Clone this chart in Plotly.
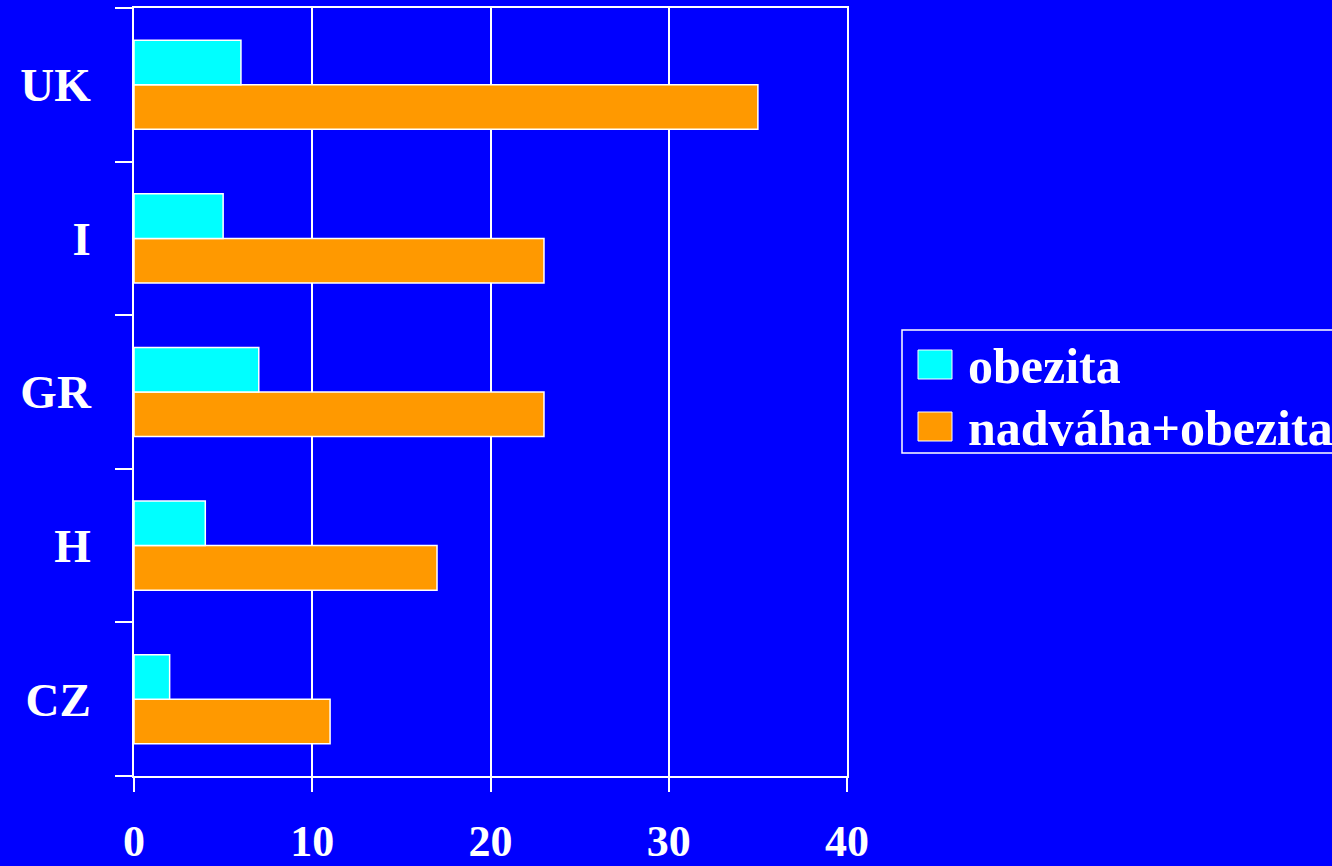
import plotly.graph_objects as go

countries = ["CZ", "H", "GR", "I", "UK"]
obezita = [2, 4, 7, 5, 6]
nadvaha_obezita = [11, 17, 23, 23, 35]
x_ticks = [0, 10, 20, 30, 40]

BLUE = "#0000FF"
CYAN = "#00FFFF"
ORANGE = "#FF9900"
WHITE = "#FFFFFF"
FONT = "Liberation Serif, Times New Roman, serif"

W, H = 1332, 866
ML, MR, MT, MB = 134, 485, 8, 90
PW, PH = W - ML - MR, H - MT - MB


def px_x(x):
    return (x - ML) / PW


def px_y(y):
    return (H - MB - y) / PH


fig = go.Figure()
# second series first so it sits below within each group
fig.add_trace(go.Bar(
    y=countries, x=nadvaha_obezita, orientation="h", name="nadváha+obezita",
    marker=dict(color=ORANGE, line=dict(color=WHITE, width=1.5)), showlegend=False,
))
fig.add_trace(go.Bar(
    y=countries, x=obezita, orientation="h", name="obezita",
    marker=dict(color=CYAN, line=dict(color=WHITE, width=1.5)), showlegend=False,
))

# legend box drawn by hand for large swatches
shapes = [
    dict(type="rect", xref="paper", yref="paper",
         x0=px_x(902), x1=px_x(1345), y0=px_y(453), y1=px_y(330),
         line=dict(color=WHITE, width=1.5), fillcolor="rgba(0,0,0,0)"),
]
annotations = []
legend_items = [("obezita", CYAN, 350, 379, 366), ("nadváha+obezita", ORANGE, 412, 441, 428)]
for label, color, y0, y1, yc in legend_items:
    shapes.append(dict(type="rect", xref="paper", yref="paper",
                       x0=px_x(918), x1=px_x(952), y0=px_y(y1), y1=px_y(y0),
                       line=dict(color=WHITE, width=1), fillcolor=color))
    annotations.append(dict(text=label, xref="paper", yref="paper",
                            x=px_x(966), y=px_y(yc), xanchor="left", yanchor="middle",
                            showarrow=False,
                            font=dict(family=FONT, size=50, color=WHITE, weight="bold")))

fig.update_layout(
    width=W, height=H,
    margin=dict(l=ML, r=MR, t=MT, b=MB, autoexpand=False),
    paper_bgcolor=BLUE, plot_bgcolor=BLUE,
    barmode="group", bargap=0.42, bargroupgap=0,
    showlegend=False,
    shapes=shapes, annotations=annotations,
    xaxis=dict(
        range=[0, 40], tickvals=x_ticks, ticktext=[str(v) for v in x_ticks],
        showgrid=True, gridcolor=WHITE, gridwidth=1.5,
        zeroline=False, showline=True, linecolor=WHITE, linewidth=1.5, mirror=True,
        ticks="outside", ticklen=14, tickwidth=1.5, tickcolor=WHITE,
        ticklabelstandoff=11, automargin=False,
        tickfont=dict(family=FONT, size=44, color=WHITE, weight="bold"),
    ),
    yaxis=dict(
        categoryorder="array", categoryarray=countries,
        showgrid=False, zeroline=False,
        showline=True, linecolor=WHITE, linewidth=1.5, mirror=True,
        ticks="outside", tickson="boundaries", ticklen=17, tickwidth=1.5, tickcolor=WHITE,
        ticklabelstandoff=32, automargin=False,
        tickfont=dict(family=FONT, size=47, color=WHITE, weight="bold"),
    ),
)

fig.write_html("out.html")
